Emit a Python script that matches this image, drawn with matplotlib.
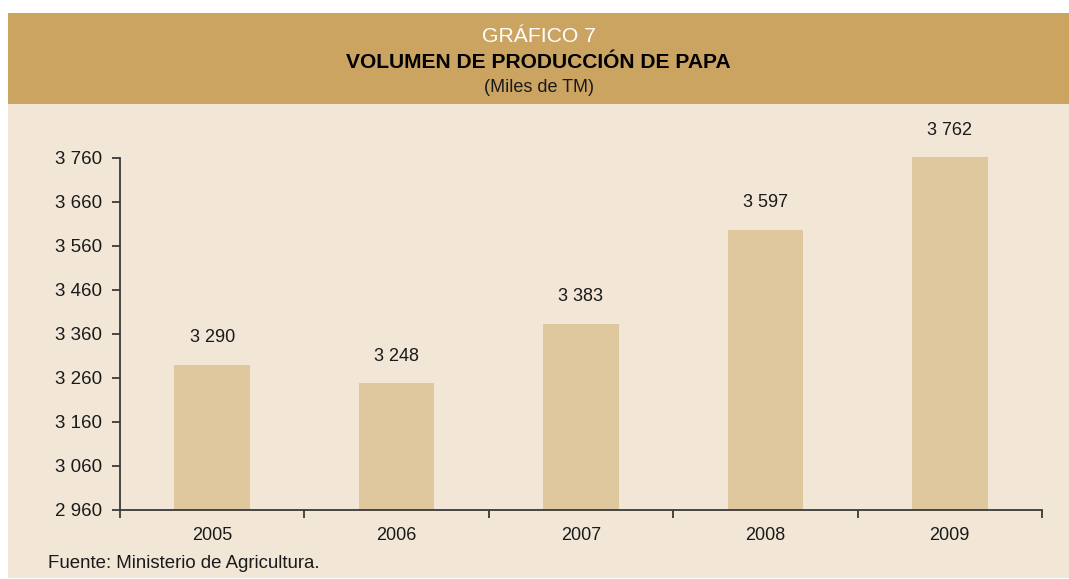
import numpy as np
import matplotlib.pyplot as plt
from matplotlib.patches import Rectangle

plt.rcParams['font.family'] = ['Liberation Sans', 'DejaVu Sans']

years = ['2005', '2006', '2007', '2008', '2009']
production = [3290, 3248, 3383, 3597, 3762]
yticks = [2960, 3060, 3160, 3260, 3360, 3460, 3560, 3660, 3760]
base = 2960

header_col = '#CBA462'
bg_col = '#F2E6D7'
bar_col = '#E0C89E'
axis_col = '#3a3a3a'
text_col = '#1a1a1a'

W, H = 1069, 579
fig = plt.figure(figsize=(W / 100, H / 100), dpi=100)
fig.patch.set_facecolor('white')

# pixel box -> figure fraction
def px(x0, y0, x1, y1):
    return (x0 / W, 1 - y1 / H, (x1 - x0) / W, (y1 - y0) / H)

l, b, w, h = px(8, 13, W, 578)
fig.patches.append(Rectangle((l, b), w, h, transform=fig.transFigure,
                             facecolor=bg_col, edgecolor='none', zorder=-2))
l, b, w, h = px(8, 13, W, 104)
fig.patches.append(Rectangle((l, b), w, h, transform=fig.transFigure,
                             facecolor=header_col, edgecolor='none', zorder=-1))

cx = (8 + W) / 2 / W
fig.text(cx, 1 - 37 / H, 'GRÁFICO 7', color='white', fontsize=15.2,
         ha='center', va='center')
fig.text(cx, 1 - 62 / H, 'VOLUMEN DE PRODUCCIÓN DE PAPA', color='black',
         fontsize=15.1, fontweight='bold', ha='center', va='center')
fig.text(cx, 1 - 87 / H, '(Miles de TM)', color=text_col, fontsize=13,
         ha='center', va='center')
fig.text(48 / W, 1 - 563 / H, 'Fuente: Ministerio de Agricultura.',
         color=text_col, fontsize=13.4, ha='left', va='center')

ax = fig.add_axes(px(120, 158, 1042, 510))
ax.set_facecolor('none')
x = np.arange(len(years))
heights = [v - base for v in production]
ax.bar(x, heights, bottom=base, width=0.41, color=bar_col, clip_on=False,
       zorder=2)
for xi, v in zip(x, production):
    ax.annotate('{:,}'.format(v).replace(',', ' '), (xi, v),
                xytext=(0, 27), textcoords='offset pixels',
                ha='center', va='center', fontsize=13, color=text_col,
                annotation_clip=False)

ax.set_xlim(-0.5, len(years) - 0.5)
ax.set_ylim(base, 3760)
ax.set_yticks(yticks)
ax.set_yticklabels(['{:,}'.format(t).replace(',', ' ') for t in yticks])
ax.set_xticks(x)
ax.set_xticklabels(years)
ax.set_xticks(np.arange(-0.5, len(years), 1.0), minor=True)
ax.tick_params(axis='x', which='major', length=0, pad=12, labelsize=13,
               labelcolor=text_col)
ax.tick_params(axis='x', which='minor', length=6, width=1.3, color=axis_col,
               direction='out')
ax.tick_params(axis='y', length=6, width=1.3, color=axis_col, pad=7,
               labelsize=13.5, labelcolor=text_col)
for s in ['top', 'right']:
    ax.spines[s].set_visible(False)
for s in ['left', 'bottom']:
    ax.spines[s].set_color(axis_col)
    ax.spines[s].set_linewidth(1.3)

fig.savefig('out.png', dpi=100, facecolor=fig.get_facecolor())
